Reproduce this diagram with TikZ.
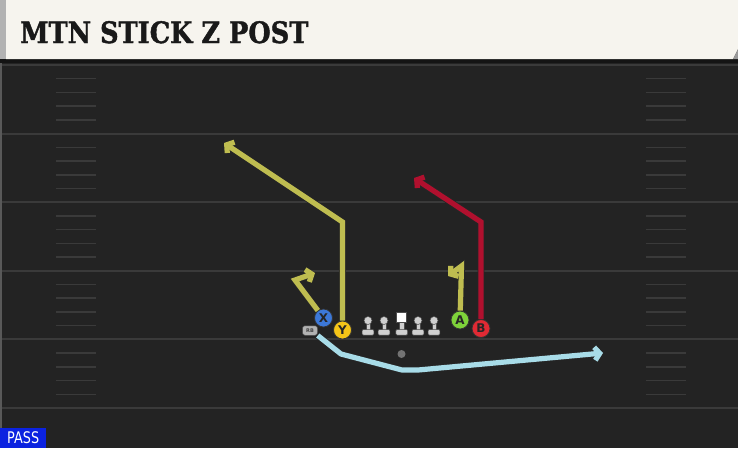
\documentclass[tikz,border=0pt]{standalone}
\usepackage{fontspec}
\usepackage{xcolor}
\usetikzlibrary{arrows.meta}
\newfontfamily\titlefont{DejaVu Serif}[FakeBold=1.5]
\newfontfamily\playerfont{DejaVu Sans}

\definecolor{fieldbg}{HTML}{232323}
\definecolor{fieldline}{HTML}{3A3A3A}
\definecolor{headerbg}{HTML}{F6F4EE}
\definecolor{xblue}{HTML}{3C78D8}
\definecolor{yyellow}{HTML}{F5C518}
\definecolor{agreen}{HTML}{7ED23A}
\definecolor{bred}{HTML}{E02A34}
\definecolor{olive}{HTML}{BFBD50}
\definecolor{crimson}{HTML}{B0102E}
\definecolor{skyblue}{HTML}{A8DCE8}
\definecolor{linegray}{HTML}{CFCFCF}
\definecolor{passblue}{HTML}{0B22E0}

\begin{document}
\begin{tikzpicture}[x=1pt, y=-1pt,
	player/.style={circle, draw=black!80, line width=0.8pt, minimum size=18pt, inner sep=0pt,
		font=\playerfont\bfseries\fontsize{12}{12}\selectfont, text=black!85},
	route/.style={line width=5.2pt, line join=miter, -{Straight Barb[length=5pt, width=13pt]},
		preaction={draw=black!85, line width=6.8pt}},
	lineman/.pic={
		\fill[linegray, draw=black!70, line width=0.5pt] (-2.2,-13) rectangle (2.2,-5);
		\fill[linegray, draw=black!70, line width=0.5pt, rounded corners=1pt] (-5.8,-5.5) rectangle (5.8,0);
		\fill[linegray, draw=black!70, line width=0.5pt] (0,-14.5) circle (4);
	}]
	\useasboundingbox (0,0) rectangle (738,448);

	% field
	\fill[fieldbg] (0,0) rectangle (738,448);
	\fill[black!65] (0,60) rectangle (2,448);
	\foreach \k in {0,...,5}
		\draw[fieldline, line width=2pt] (2,65+68.6*\k) -- (738,65+68.6*\k);
	\foreach \k in {0,...,4}
		\foreach \j in {1,...,4} {
			\draw[fieldline, line width=1.5pt] (56,65+68.6*\k+13.72*\j) -- (96,65+68.6*\k+13.72*\j);
			\draw[fieldline, line width=1.5pt] (646,65+68.6*\k+13.72*\j) -- (686,65+68.6*\k+13.72*\j);
		}

	% header
	\fill[black!92] (0,58) rectangle (738,63);
	\fill[headerbg] (6,0) -- (738,0) -- (738,49) -- (733,59) -- (6,59) -- cycle;
	\fill[black!30] (0,0) rectangle (6,59);
	\fill[black!40] (738,49) -- (738,59) -- (733,59) -- cycle;
	\node (title) [anchor=base west, inner sep=0pt, text=black!90] at (20,43)
		{\scalebox{0.87}[1]{\titlefont\bfseries\fontsize{29.5}{29.5}\selectfont MTN STICK Z POST}};

	% line
	\foreach \x/\n in {368/lt, 384/lg, 418/rg, 434/rt}
		\pic (\n) at (\x,335) {lineman};
	\fill[linegray, draw=black!70, line width=0.5pt] (399.5,322) rectangle (403.9,330);
	\fill[linegray, draw=black!70, line width=0.5pt, rounded corners=1pt] (395.9,329.5) rectangle (407.5,335);
	\node (center) [fill=white, draw=black!70, line width=0.5pt, minimum size=10pt, inner sep=0pt] at (401.7,317.5) {};
	\node (ball) [circle, fill=black!55, minimum size=8pt, inner sep=0pt] at (401.5,354) {};

	% players
	\node (X) [player, fill=xblue] at (323.5,318) {X};
	\node (Y) [player, fill=yyellow] at (342.5,330) {Y};
	\node (A) [player, fill=agreen] at (460,320) {A};
	\node (B) [player, fill=bred] at (481,328.5) {B};
	\node (RB) [rounded corners=2.5pt, fill=black!30, draw=black!70, line width=0.5pt, minimum width=15pt,
		minimum height=9.5pt, inner sep=0pt, text=black!75, font=\playerfont\bfseries\fontsize{5}{5}\selectfont]
		at (310,330.5) {RB};

	% routes
	\coordinate (Ybreak) at (342.5,222);
	\coordinate (Yend) at (224,143);
	\coordinate (Xbreak) at (295,280);
	\coordinate (Xend) at (315,273);
	\coordinate (Abreak) at (461.5,266);
	\coordinate (Aend) at (448,276);
	\coordinate (Bbreak) at (481,222);
	\coordinate (Bend) at (414,178);
	\coordinate (RBdip) at (341,354);
	\coordinate (RBlow) at (402,370);
	\coordinate (RBflat) at (418,370);
	\coordinate (RBend) at (603,353);

	\draw [route, olive] (Y) -- (Ybreak) -- (Yend);
	\draw [route, olive] (X) -- (Xbreak) -- (Xend);
	\draw [route, olive] (A) -- (Abreak) -- (Aend);
	\draw [route, crimson] (B) -- (Bbreak) -- (Bend);
	\draw [route, skyblue, line join=round] (RB.south east) -- (RBdip) -- (RBlow) -- (RBflat) -- (RBend);

	% play type
	\node (tag) [anchor=south west, fill=passblue, minimum width=46pt, minimum height=20pt, inner sep=0pt,
		text=white] at (0,448) {\scalebox{0.8}[1]{\playerfont\fontsize{16}{16}\selectfont PASS}};
\end{tikzpicture}
\end{document}
